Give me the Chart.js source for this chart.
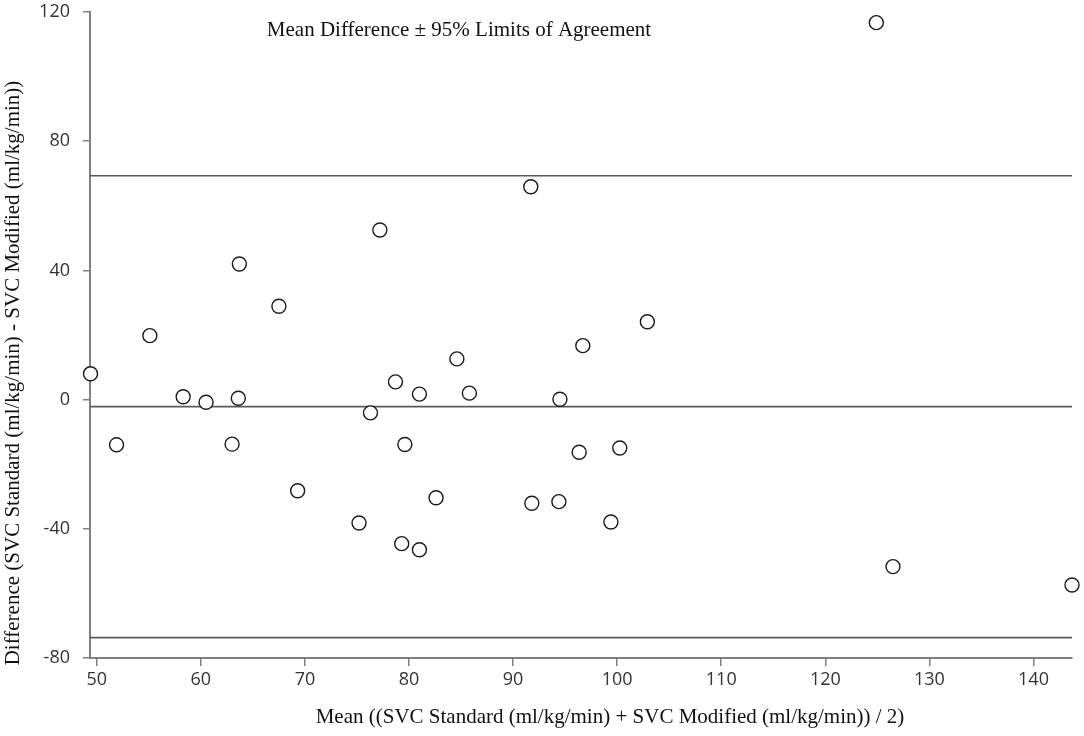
<!DOCTYPE html>
<html>
<head>
<meta charset="utf-8">
<title>Bland-Altman SVC</title>
<script src="https://cdn.jsdelivr.net/npm/chart.js@4.4.0/dist/chart.umd.min.js"></script>
<style>
  html, body { margin: 0; padding: 0; background: #fff; }
  #wrap { width: 1084px; height: 736px; }
</style>
</head>
<body>
<div id="wrap"><canvas id="bland"></canvas></div>
<script>
// Bland-Altman: mean of the two methods (x) vs their difference (y)
const meanVals = [49.4, 51.9, 55.1, 58.3, 60.5, 63.0, 63.6, 63.7, 67.5, 69.3,
                  75.2, 76.3, 77.2, 78.7, 79.3, 79.6, 81.0, 81.0, 82.6, 84.6,
                  85.8, 91.7, 91.8, 94.4, 94.5, 96.35, 96.7, 99.4, 100.25, 102.9,
                  124.9, 126.5, 143.7];
const diffVals = [8.0, -14.0, 19.8, 0.9, -0.8, -13.8, 0.4, 42.0, 28.9, -28.2,
                  -38.2, -4.1, 52.5, 5.5, -44.6, -13.9, 1.7, -46.5, -30.4, 12.6,
                  2.0, 65.9, -32.1, -31.6, 0.1, -16.3, 16.7, -37.9, -15.0, 24.1,
                  116.7, -51.7, -57.4];

// mean difference and 95% limits of agreement
const meanDiff = -2.2;
const upperLoa = 69.3;
const lowerLoa = -73.7;

const xRange = [49.35, 143.7];
const xTicks = [50, 60, 70, 80, 90, 100, 110, 120, 130, 140];
const yTicks = [-80, -40, 0, 40, 80, 120];

const annotation = 'Mean Difference \u00b1 95% Limits of Agreement';
const xTitle = 'Mean ((SVC Standard (ml/kg/min) + SVC Modified (ml/kg/min)) / 2)';
const yTitle = 'Difference (SVC Standard (ml/kg/min) - SVC Modified (ml/kg/min))';

const serif = '"Liberation Serif", "DejaVu Serif", serif';
const sans = '"Open Sans", "Noto Sans", sans-serif';

function hLine(y) {
  return {
    type: 'line',
    data: [{ x: xRange[0], y: y }, { x: xRange[1], y: y }],
    borderColor: '#5a5a5a',
    borderWidth: 1.7,
    pointRadius: 0,
    fill: false
  };
}

// the plot's texts: annotation inside the area plus both axis titles
// (the original figure has its axis titles a bit off the area centre)
const textPlugin = {
  id: 'figureText',
  afterDraw(chart) {
    const { ctx, chartArea } = chart;
    ctx.save();
    ctx.font = '21px ' + serif;
    ctx.fillStyle = '#111';
    ctx.textAlign = 'center';
    ctx.textBaseline = 'middle';
    ctx.fillText(annotation, chartArea.left + 369, chartArea.top + 18);
    ctx.fillText(xTitle, chartArea.left + 520, chart.height - 19);
    ctx.translate(13, chartArea.top + 361);
    ctx.rotate(-Math.PI / 2);
    ctx.fillText(yTitle, 0, 0);
    ctx.restore();
  }
};

new Chart(document.getElementById('bland'), {
  data: {
    datasets: [
      {
        type: 'scatter',
        data: meanVals.map((m, i) => ({ x: m, y: diffVals[i] })),
        pointRadius: 7,
        pointBackgroundColor: '#fff',
        pointBorderColor: '#1a1a1a',
        pointBorderWidth: 1.4,
        clip: false
      },
      hLine(upperLoa),
      hLine(meanDiff),
      hLine(lowerLoa)
    ]
  },
  options: {
    responsive: true,
    maintainAspectRatio: false,
    animation: false,
    layout: { padding: { left: 0, right: 12, top: 12, bottom: 0 } },
    plugins: {
      legend: { display: false },
      tooltip: { enabled: false }
    },
    scales: {
      x: {
        type: 'linear',
        min: xRange[0],
        max: xRange[1],
        afterBuildTicks: s => { s.ticks = xTicks.map(v => ({ value: v })); },
        afterFit: s => { s.height = 78; },
        grid: { drawOnChartArea: false, drawTicks: true, tickLength: 8, color: '#808080', lineWidth: 1.5 },
        border: { display: true, color: '#808080', width: 2 },
        ticks: { color: '#333', font: { family: sans, size: 18 }, padding: 3, maxRotation: 0 }
      },
      y: {
        type: 'linear',
        min: -80,
        max: 120,
        afterBuildTicks: s => { s.ticks = yTicks.map(v => ({ value: v })); },
        // fixed width; drop the label overhang so 120 sits at the very top
        afterFit: s => { s.width = 90; s.paddingTop = 0; s.paddingBottom = 0; },
        grid: { drawOnChartArea: false, drawTicks: true, tickLength: 7, color: '#808080', lineWidth: 1.5 },
        border: { display: true, color: '#808080', width: 2 },
        ticks: { color: '#333', font: { family: sans, size: 18 }, padding: 13 }
      }
    }
  },
  plugins: [textPlugin]
});
</script>
</body>
</html>
